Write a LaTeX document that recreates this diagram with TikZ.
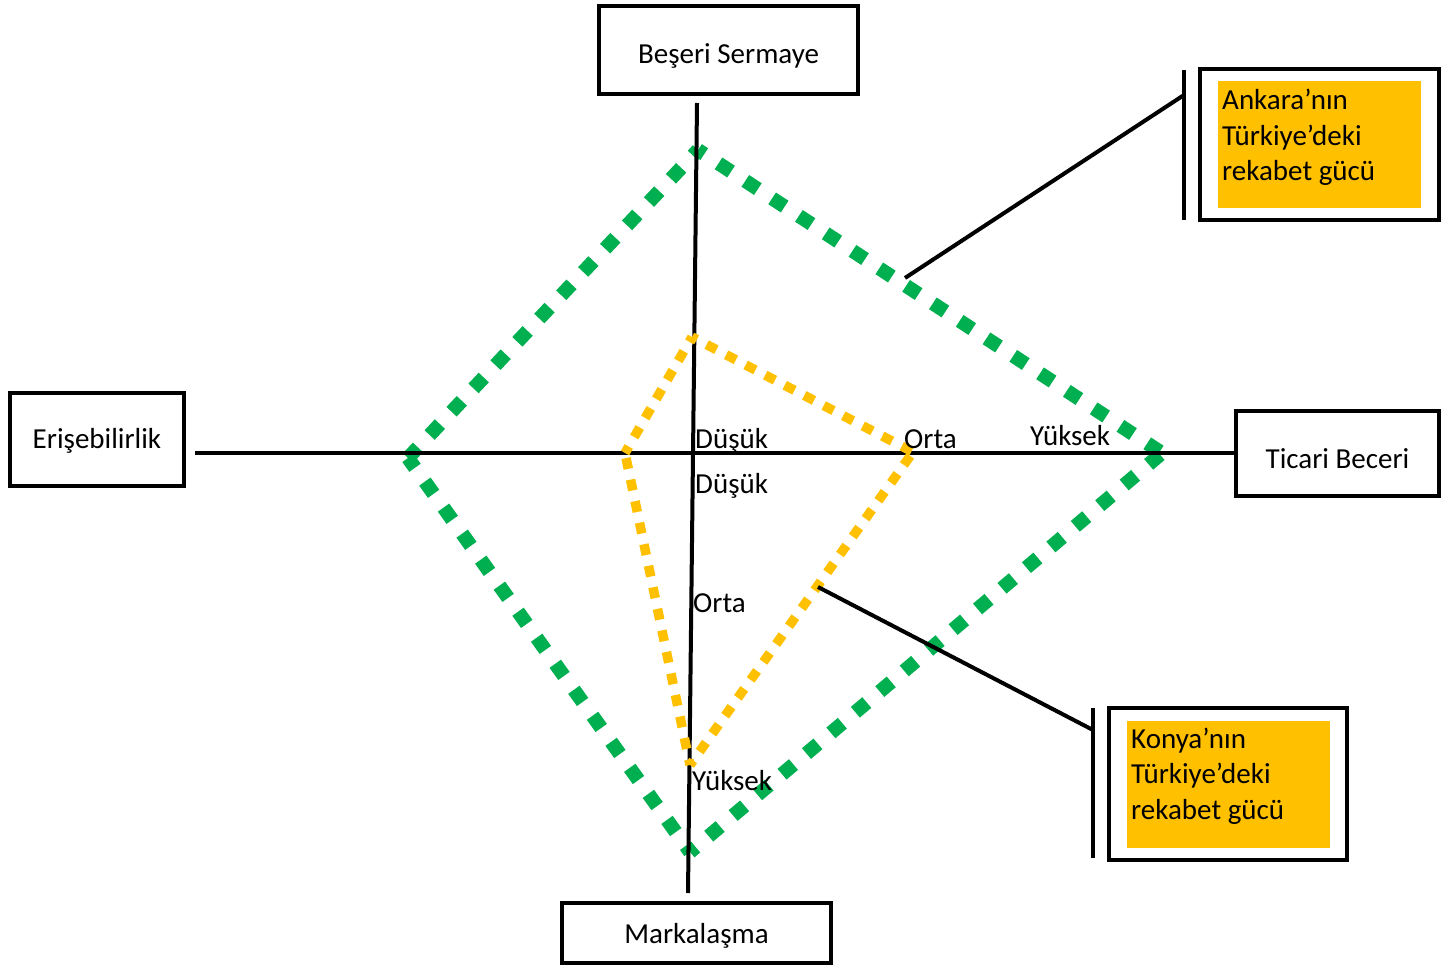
\documentclass[tikz,border=0pt]{standalone}
\usepackage{fontspec}
\setmainfont{Carlito}
\definecolor{axisgreen}{HTML}{00B050}
\definecolor{axisorange}{HTML}{FFC000}
\begin{document}
\begin{tikzpicture}[x=1pt,y=-1pt,
  font=\fontsize{29}{35.5}\selectfont,
  boxnode/.style={draw=black, line width=4pt, inner sep=0pt},
  fillnode/.style={fill=axisorange, inner sep=0pt},
  axisline/.style={line width=4pt},
  leader/.style={line width=4pt},
  greenedge/.style={draw=axisgreen, line width=14pt, dash pattern=on 15pt off 17pt, dash phase=7.5pt},
  orangeedge/.style={draw=axisorange, line width=9.5pt, dash pattern=on 11pt off 11pt, dash phase=5.5pt},
  lbl/.style={anchor=base west, inner sep=0pt}]
\useasboundingbox (0,0) rectangle (1451,965);

% dimension boxes
\node[boxnode, minimum width=259pt, minimum height=88pt, text height=27pt, text depth=0pt] (bes) at (728.5,50) {Beşeri Sermaye};
\node[boxnode, minimum width=174pt, minimum height=93pt, text height=17pt, text depth=0pt] (eri) at (97,439.5) {Erişebilirlik};
\node[boxnode, minimum width=203pt, minimum height=85pt, text height=29pt, text depth=0pt] (tic) at (1337.5,453.5) {Ticari Beceri};
\node[boxnode, minimum width=269pt, minimum height=60pt, text height=20pt, text depth=0pt] (mar) at (696.5,933) {Markalaşma};

% legend boxes
\node[boxnode, minimum width=239pt, minimum height=151pt] (ank) at (1319.5,144.5) {};
\node[fillnode, minimum width=203pt, minimum height=127pt] (ankfill) at (1319.5,144.5) {};
\node[lbl] (ank1) at (1222,110) {Ankara’nın};
\node[lbl] (ank2) at (1222,145.5) {Türkiye’deki};
\node[lbl] (ank3) at (1222,181) {rekabet gücü};

\node[boxnode, minimum width=238pt, minimum height=152pt] (kon) at (1228,784) {};
\node[fillnode, minimum width=203pt, minimum height=127pt] (konfill) at (1228.5,784) {};
\node[lbl] (kon1) at (1131,748) {Konya’nın};
\node[lbl] (kon2) at (1131,783.5) {Türkiye’deki};
\node[lbl] (kon3) at (1131,819) {rekabet gücü};

% axis ends
\coordinate (vtop) at (697,103);
\coordinate (vbot) at (688,893);
\coordinate (hleft) at (195,453);
\coordinate (hright) at (1235,453);

% Ankara profile
\coordinate (gT) at (698,150);
\coordinate (gR) at (1162,453);
\coordinate (gB) at (690,852);
\coordinate (gL) at (408,458);
% Konya profile
\coordinate (oT) at (692,337);
\coordinate (oR) at (913,452);
\coordinate (oB) at (690,765);
\coordinate (oL) at (625,453);

\draw[greenedge] (gT) -- (gL);
\draw[greenedge] (gT) -- (gR);
\draw[greenedge] (gB) -- (gR);
\draw[greenedge] (gB) -- (gL);

\draw[axisline] (vtop) -- (vbot);
\draw[axisline] (hleft) -- (hright);

\draw[orangeedge] (oT) -- (oR);
\draw[orangeedge] (oB) -- (oR);
\draw[orangeedge] (oB) -- (oL);
\draw[orangeedge] (oT) -- (oL);

% scale labels
\node[lbl] (h1) at (695,448) {Düşük};
\node[lbl] (h2) at (904,448) {Orta};
\node[lbl] (h3) at (1030,446) {Yüksek};
\node[lbl] (v1) at (695,493) {Düşük};
\node[lbl] (v2) at (693,612) {Orta};
\node[lbl] (v3) at (692,790) {Yüksek};

% leaders to legend
\coordinate (ankA) at (905,278);
\coordinate (ankB) at (1184,95);
\coordinate (ankBt) at (1184,70);
\coordinate (ankBb) at (1184,220);
\draw[leader] (ankA) -- (ankB);
\draw[leader] (ankBt) -- (ankBb);

\coordinate (konA) at (818,587);
\coordinate (konB) at (1093,730);
\coordinate (konBt) at (1093,708);
\coordinate (konBb) at (1093,858);
\draw[leader] (konA) -- (konB);
\draw[leader] (konBt) -- (konBb);
\end{tikzpicture}
\end{document}
